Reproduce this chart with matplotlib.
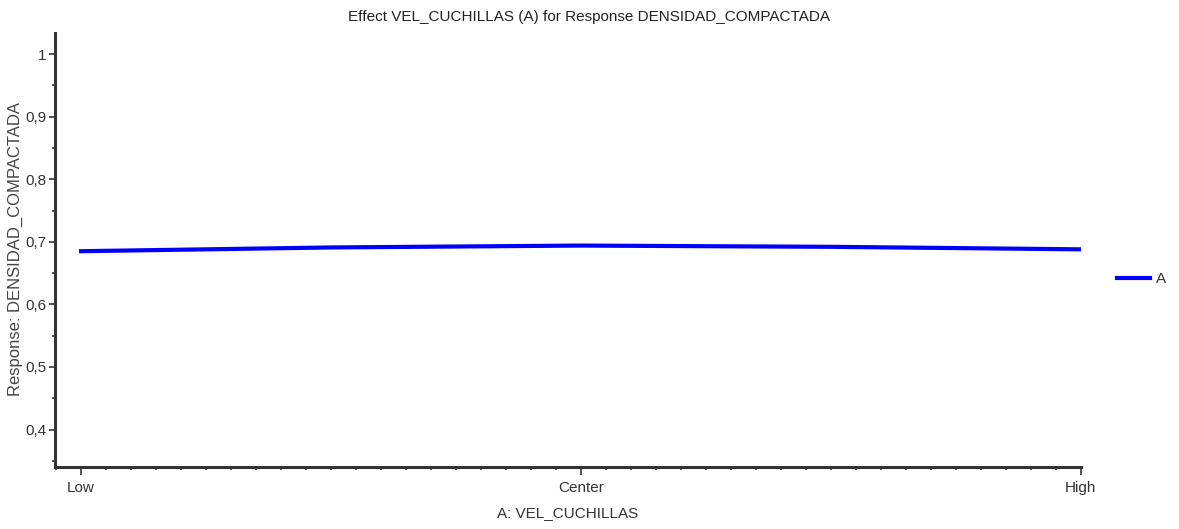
import matplotlib
matplotlib.use("Agg")
import matplotlib.pyplot as plt
from matplotlib.ticker import MultipleLocator, FixedLocator

# data
x_levels = [-1.0, -0.5, 0.0, 0.5, 1.0]
densidad = [0.685, 0.691, 0.694, 0.692, 0.688]
x_ticks = [-1, 0, 1]
x_ticklabels = ["Low", "Center", "High"]
y_ticks = [0.4, 0.5, 0.6, 0.7, 0.8, 0.9, 1.0]
y_ticklabels = ["0,4", "0,5", "0,6", "0,7", "0,8", "0,9", "1"]

narrow = ["Liberation Sans", "DejaVu Sans"]

fig = plt.figure(figsize=(11.79, 5.29), dpi=100)
ax = fig.add_axes([0.0467, 0.117, 0.870, 0.821])

ax.plot(x_levels, densidad, color="#0000ff", lw=3, label="A")

ax.set_xlim(-1.052, 1.0)
ax.set_ylim(0.34, 1.034)

for s in ["top", "right"]:
    ax.spines[s].set_visible(False)
for s in ["left", "bottom"]:
    ax.spines[s].set_linewidth(2.2)
    ax.spines[s].set_color("#333333")

ax.xaxis.set_major_locator(FixedLocator(x_ticks))
ax.xaxis.set_minor_locator(MultipleLocator(0.05))
ax.set_xticklabels(x_ticklabels, family=narrow, fontsize=11, color="#333333")
ax.yaxis.set_major_locator(FixedLocator(y_ticks))
ax.yaxis.set_minor_locator(MultipleLocator(0.05))
ax.set_yticklabels(y_ticklabels, family=narrow, fontsize=11, color="#333333")
ax.tick_params(which="major", length=4, width=1.2, color="#333333", pad=2)
ax.tick_params(which="minor", length=2, width=1.2, color="#333333")
ax.tick_params(axis="x", which="major", length=6, pad=4)

ax.set_xlabel("A: VEL_CUCHILLAS", family=narrow, fontsize=11, color="#333333", labelpad=8)
fig.text(15 / 1179, 0.53, "Response: DENSIDAD_COMPACTADA", rotation=90,
         ha="center", va="center", family="Liberation Sans", fontsize=12, color="#444444")
fig.text(0.5, 0.967, "Effect VEL_CUCHILLAS (A) for Response DENSIDAD_COMPACTADA",
         ha="center", va="center", family=narrow, fontsize=11, color="#222222")

leg = ax.legend(loc="center left", bbox_to_anchor=(1.035, 0.433), frameon=False,
                handlelength=2.2, handletextpad=0.4, borderpad=0, borderaxespad=0,
                prop={"family": narrow, "size": 11})
for t in leg.get_texts():
    t.set_color("#333333")

fig.savefig("out.png", dpi=100)
